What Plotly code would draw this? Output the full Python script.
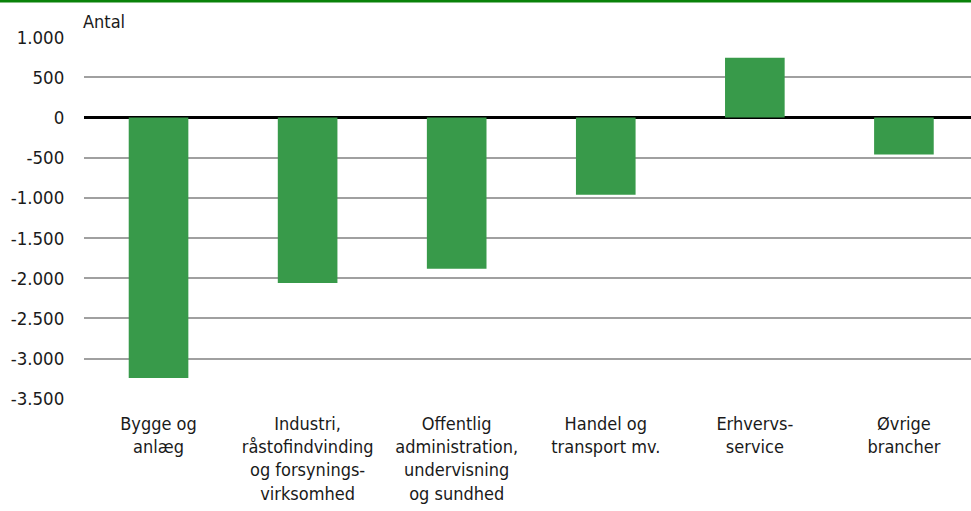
import plotly.graph_objects as go

categories = [
    "Bygge og<br>anlæg",
    "Industri,<br>råstofindvinding<br>og forsynings-<br>virksomhed",
    "Offentlig<br>administration,<br>undervisning<br>og sundhed",
    "Handel og<br>transport mv.",
    "Erhvervs-<br>service",
    "Øvrige<br>brancher",
]
values = [-3240, -2060, -1880, -960, 745, -460]
tick_vals = [1000, 500, 0, -500, -1000, -1500, -2000, -2500, -3000, -3500]
tick_text = ["1.000", "500", "0", "-500", "-1.000", "-1.500", "-2.000", "-2.500", "-3.000", "-3.500"]
y_title = "Antal"

FONT = "DejaVu Sans Condensed, Liberation Sans Narrow, Liberation Sans, sans-serif"
GREEN = "#389a4a"
TOP = 37
PLOT_H = 511 - 37 - 112

fig = go.Figure(go.Bar(
    x=list(range(len(categories))), y=values,
    marker=dict(color=GREEN, line=dict(width=0)),
    width=0.4,
))

fig.update_layout(
    width=971, height=511,
    margin=dict(l=84, r=0, t=TOP, b=112),
    paper_bgcolor="white", plot_bgcolor="white",
    showlegend=False,
    font=dict(family=FONT, size=18, color="#1a1a1a"),
    xaxis=dict(
        tickmode="array", tickvals=list(range(len(categories))), ticktext=categories,
        range=[-0.5, 5.45], showgrid=False, zeroline=False, showline=False,
        ticks="outside", ticklen=8, tickcolor="rgba(0,0,0,0)", tickangle=0,
        automargin=False,
    ),
    yaxis=dict(
        tickmode="array", tickvals=tick_vals, ticktext=tick_text,
        range=[-3502, 1002], showgrid=True, gridcolor="#a0a0a0", gridwidth=1.5,
        zeroline=True, zerolinecolor="#000000", zerolinewidth=2.5,
        showline=False, ticks="outside", ticklen=15, tickcolor="rgba(0,0,0,0)",
        tickfont=dict(size=18.5),
        automargin=False,
    ),
    annotations=[dict(text=y_title, xref="paper", yref="paper", x=0, y=1,
                      xanchor="left", yanchor="bottom", yshift=3, xshift=-3,
                      showarrow=False,
                      font=dict(size=18, family=FONT, color="#1a1a1a"))],
)

# top green rule across the whole page
fig.add_shape(type="rect", xref="paper", yref="paper", x0=-0.2, x1=1.1,
              y0=1 + (TOP - 2.6) / PLOT_H, y1=1 + (TOP + 3) / PLOT_H, line=dict(width=0),
              fillcolor="#0a820a", layer="above")

fig.write_html("out.html", config={"displayModeBar": False},
               post_script="document.body.style.margin='0';document.body.style.overflow='hidden';")
